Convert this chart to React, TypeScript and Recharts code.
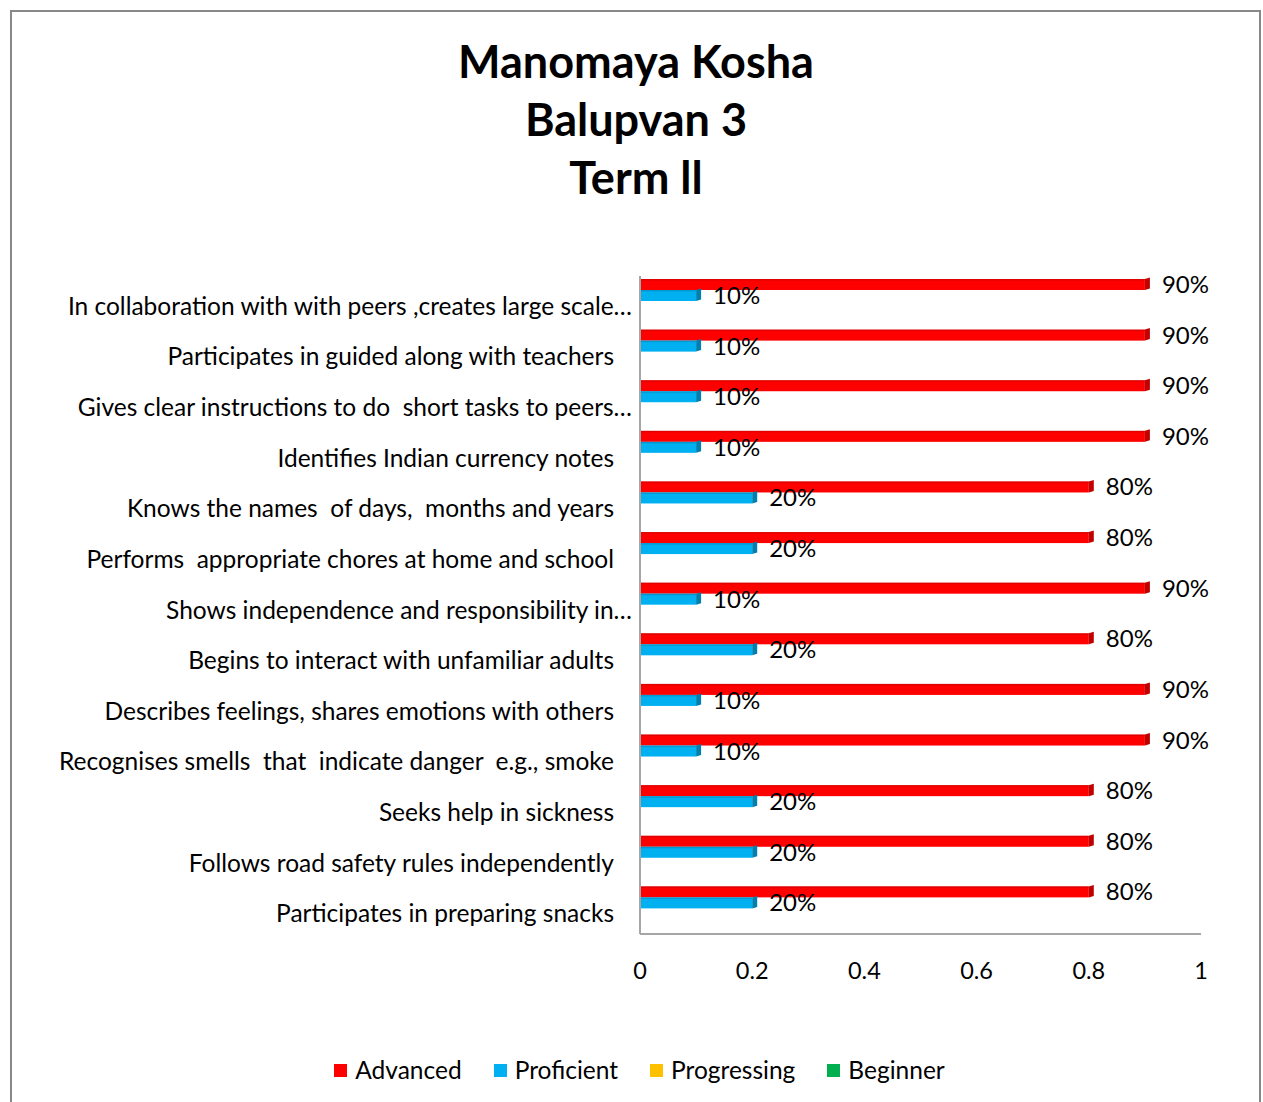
import React from 'react';
import { BarChart, Bar, XAxis, YAxis, LabelList } from 'recharts';

const categories = [
  'In collaboration with with peers ,creates large scale…',
  'Participates in guided along with teachers',
  'Gives clear instructions to do  short tasks to peers…',
  'Identifies Indian currency notes',
  'Knows the names  of days,  months and years',
  'Performs  appropriate chores at home and school',
  'Shows independence and responsibility in…',
  'Begins to interact with unfamiliar adults',
  'Describes feelings, shares emotions with others',
  'Recognises smells  that  indicate danger  e.g., smoke',
  'Seeks help in sickness',
  'Follows road safety rules independently',
  'Participates in preparing snacks',
];
const advanced = [0.9, 0.9, 0.9, 0.9, 0.8, 0.8, 0.9, 0.8, 0.9, 0.9, 0.8, 0.8, 0.8];
const proficient = [0.1, 0.1, 0.1, 0.1, 0.2, 0.2, 0.1, 0.2, 0.1, 0.1, 0.2, 0.2, 0.2];
const progressing = [0, 0, 0, 0, 0, 0, 0, 0, 0, 0, 0, 0, 0];
const beginner = [0, 0, 0, 0, 0, 0, 0, 0, 0, 0, 0, 0, 0];
const xTicks = [0, 0.2, 0.4, 0.6, 0.8, 1];
const titleLines = ['Manomaya Kosha', 'Balupvan 3', 'Term ll'];

const series = [
  { key: 'Advanced', values: advanced, color: '#FF0000', dark: '#C00000' },
  { key: 'Proficient', values: proficient, color: '#00B0F0', dark: '#0080B0' },
  { key: 'Progressing', values: progressing, color: '#FFC000', dark: '#C09000' },
  { key: 'Beginner', values: beginner, color: '#00B050', dark: '#008040' },
];

const data = categories.map((c, i) => {
  const row: any = { name: c };
  series.forEach((s) => (row[s.key] = s.values[i]));
  return row;
});

const FONT = 'Lato, "Open Sans", sans-serif';

const YTick = (props: any) => {
  const { y, payload } = props;
  const v: string = payload.value;
  const trunc = v.endsWith('…');
  return (
    <text
      x={trunc ? 632 : 614}
      y={y + 4}
      textAnchor="end"
      dominantBaseline="central"
      fontFamily={FONT}
      fontSize={24.5}
      fill="#000"
      style={{ whiteSpace: 'pre' }}
    >
      {v}
    </text>
  );
};

const XTick = (props: any) => {
  const { x, payload } = props;
  return (
    <text x={x} y={970} textAnchor="middle" dominantBaseline="central" fontFamily={FONT} fontSize={23.5} fill="#000">
      {String(payload.value)}
    </text>
  );
};

const makeShape = (color: string, dark: string) => (props: any) => {
  const { x, y, width, height } = props;
  if (!width || width <= 0) return <g />;
  const d = 5;
  const ex = x + width;
  return (
    <g>
      <rect x={x} y={y} width={width} height={height} fill={color} />
      <polygon
        points={`${ex},${y} ${ex + d},${y - 1.5} ${ex + d},${y + height - 1.5} ${ex},${y + height}`}
        fill={dark}
      />
      <rect x={x} y={y} width={width} height={1.5} fill={dark} opacity={0.5} />
    </g>
  );
};

const pctLabel = (v: any) => (v > 0 ? `${Math.round(v * 100)}%` : '');

export default function App() {
  return (
    <div style={{ position: 'absolute', left: 0, top: 0, width: 1263, height: 1102, background: '#fff', overflow: 'hidden' }}>
      <div
        style={{
          position: 'absolute',
          left: 10,
          top: 10,
          width: 1251,
          height: 1100,
          border: '2px solid #888',
          boxSizing: 'border-box',
        }}
      />
      <div
        style={{
          position: 'absolute',
          left: 0,
          top: 32,
          width: 1272,
          textAlign: 'center',
          fontFamily: FONT,
          fontWeight: 700,
          fontSize: 45,
          lineHeight: '58px',
          color: '#000',
        }}
      >
        {titleLines.map((t) => (
          <div key={t}>{t}</div>
        ))}
      </div>
      <div style={{ position: 'absolute', left: 0, top: 0 }}>
        <BarChart
          width={1263}
          height={1102}
          data={data}
          layout="vertical"
          margin={{ top: 276, right: 62, bottom: 128, left: 0 }}
          barGap={0}
          barSize={11}
        >
          <XAxis
            type="number"
            domain={[0, 1]}
            ticks={xTicks}
            tick={<XTick />}
            tickLine={false}
            axisLine={{ stroke: '#A6A6A6', strokeWidth: 2 }}
            height={40}
            interval={0}
          />
          <YAxis
            type="category"
            dataKey="name"
            width={640}
            tick={<YTick />}
            tickLine={false}
            axisLine={{ stroke: '#A6A6A6', strokeWidth: 2 }}
            interval={0}
          />
          {series.map((s) => (
            <Bar key={s.key} dataKey={s.key} fill={s.color} isAnimationActive={false} shape={makeShape(s.color, s.dark)}>
              <LabelList
                dataKey={s.key}
                position="right"
                offset={17}
                formatter={pctLabel}
                fontFamily={FONT}
                fontSize={24}
                fill="#000"
              />
            </Bar>
          ))}
        </BarChart>
      </div>
      <div
        style={{
          position: 'absolute',
          left: 0,
          top: 1055,
          width: 1263,
          display: 'flex',
          justifyContent: 'center',
          fontFamily: FONT,
          fontSize: 24.5,
          lineHeight: '30px',
          color: '#000',
          paddingLeft: 16,
          boxSizing: 'border-box',
        }}
      >
        {series.map((s, i) => (
          <div key={s.key} style={{ display: 'flex', alignItems: 'center', marginRight: i < series.length - 1 ? 32 : 0 }}>
            <span style={{ width: 13, height: 13, background: s.color, display: 'inline-block', marginRight: 8 }} />
            <span>{s.key}</span>
          </div>
        ))}
      </div>
    </div>
  );
}
